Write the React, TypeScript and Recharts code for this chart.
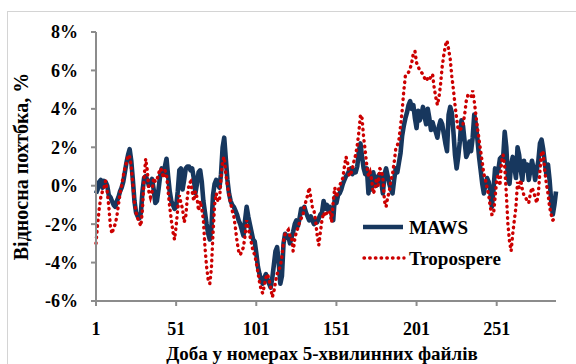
import React from 'react';
import { LineChart, Line, XAxis, YAxis } from 'recharts';

// Categories: numbers of the 5-minute files within the day
const fileNumbers: number[] = Array.from({ length: 288 }, (_, k) => k + 1);

// MAWS relative error, %
const mawsValues: number[] = [
  -0.4, -0.2, 0.2, 0.3, -0.1, 0.25, 0.2, 0.0, -0.5, -0.6,
  -0.8, -1.0, -1.1, -0.8, -0.6, -0.3, -0.1, 0.2, 0.7, 1.2,
  1.6, 1.9, 1.3, 0.3, -0.8, -1.4, -1.6, -1.7, -1.4, -0.3,
  0.4, 0.5, 0.3, 0.0, 0.2, 0.35, -0.2, -0.9, -0.8, -0.2,
  0.5, 0.9, 0.6, 1.0, 1.4, 0.5, -0.3, -0.8, -1.0, -1.2,
  -1.1, -0.3, 0.8, 0.9, -0.2, 0.3, 0.9, 1.0, 1.0, 0.8,
  0.9, 0.4, -0.4, 0.1, 0.7, 0.8, 0.2, -0.8, -1.4, -2.0,
  -2.5, -2.8, -2.2, -0.5, 0.1, 0.3, 0.1, -0.1, 0.6, 2.0,
  2.5, 1.4, 0.3, -0.4, -0.8, -1.0, -1.1, -1.3, -1.5, -1.8,
  -2.0, -2.3, -2.6, -1.8, -1.1, -1.6, -2.0, -2.4, -2.8, -2.9,
  -3.5, -4.2, -4.6, -4.9, -5.1, -4.8, -4.6, -4.9, -5.1, -5.3,
  -4.8, -4.1, -3.4, -3.2, -4.0, -5.1, -4.7, -3.0, -2.5, -2.7,
  -2.6, -3.0, -2.7, -2.4, -2.0, -1.8, -2.1, -1.7, -1.2, -1.3,
  -1.1, -1.4, -1.6, -1.8, -1.6, -1.8, -2.0, -1.8, -1.9, -1.7,
  -1.5, -1.4, -0.8, -1.2, -1.0, -1.3, -1.1, -1.5, -1.8, -0.6,
  -0.9, -0.5, -0.4, -0.2, 0.1, 0.3, 0.5, 0.6, 0.8, 0.9,
  0.6, 0.8, 0.7, 1.0, 1.8, 2.2, 1.5, 0.9, 0.6, 0.9,
  -0.4, 0.6, -0.2, 0.7, 0.2, 0.0, 0.5, 0.6, 0.2, -0.4,
  0.6, 0.9, 0.5, 0.1, -0.2, -0.4, 0.3, 0.9, 0.7, 1.2,
  1.7, 2.6, 3.1, 3.5, 3.8, 4.2, 4.4, 4.0, 4.2, 3.5,
  3.0, 3.9, 3.4, 3.7, 4.1, 3.6, 3.2, 4.0, 3.5, 2.9,
  3.3, 3.0, 2.8, 2.5, 3.1, 3.4, 3.2, 2.7, 2.2, 1.8,
  3.7, 4.1, 3.8, 2.8, 1.6, 0.9, 1.5, 2.3, 3.4, 3.1,
  2.3, 1.5, 1.7, 2.3, 1.8, 2.5, 3.7, 3.2, 2.4, 1.5,
  0.8, 0.1, -0.4, 0.1, 0.4, 0.2, -0.3, -1.1, -0.2, 0.9,
  0.6, 0.8, 1.4, 1.5, 1.4, 2.8, 2.0, 0.4, 0.1, 1.1,
  1.5, 1.0, 0.4, 2.0, 1.6, 0.8, 0.3, 1.3, 0.8, 1.1,
  0.3, 0.8, 1.3, 0.9, 0.3, 0.8, 1.3, 2.2, 2.4, 1.9,
  1.2, 0.6, 1.1, 0.3, -0.8, -1.5, -1.0, -0.3,
];

// Troposphere relative error, %
const tropoValues: number[] = [
  -3.0, -2.0, -1.2, -0.6, -0.3, -0.1, 0.25, -0.3, -1.1, -2.1,
  -2.5, -2.2, -2.0, -1.6, -1.0, -0.4, 0.0, 0.5, 0.9, 1.2,
  1.6, 1.5, 1.0, 0.1, -0.9, -1.4, -1.7, -1.9, -2.1, -1.2,
  0.4, 1.4, 0.8, -0.3, -0.6, -0.3, 0.4, 0.2, 0.3, 0.6,
  0.9, 0.8, 0.4, 0.8, 0.6, -0.3, -1.1, -1.8, -2.4, -2.8,
  -2.1, -1.2, -0.5, -0.9, -1.2, -1.9, -1.6, -0.6, 0.1, 0.2,
  -0.3, -0.8, -0.3, -0.6, -1.3, -0.8, -1.2, -1.8, -3.2, -4.2,
  -4.9, -5.1, -4.3, -2.5, -1.0, -0.4, -0.8, -0.8, 0.4, 1.3,
  1.5, 0.6, 0.0, -0.5, -0.9, -1.3, -1.6, -2.2, -2.9, -3.4,
  -3.6, -3.4, -3.2, -2.6, -1.8, -2.2, -2.6, -3.0, -3.4, -3.6,
  -4.0, -4.5, -5.0, -5.4, -5.6, -5.2, -4.8, -4.6, -4.9, -5.3,
  -5.8, -5.5, -5.0, -4.6, -4.4, -4.2, -3.7, -2.9, -2.5, -2.4,
  -2.3, -2.6, -2.6, -3.4, -2.8, -2.4, -2.2, -1.9, -1.7, -1.6,
  -1.1, -0.8, -0.5, -0.1, -0.6, -1.1, -1.3, -1.8, -2.6, -3.1,
  -2.4, -1.8, -1.4, -1.6, -1.4, -1.3, -1.4, -1.9, -0.8, -0.1,
  -0.6, -0.3, 0.0, 0.2, 0.4, 1.0, 1.5, 1.2, 0.5, 0.6,
  0.9, 1.3, 1.6, 2.1, 2.8, 3.7, 3.5, 2.5, 1.8, 1.0,
  0.5, 0.7, 0.3, -0.4, -0.2, 0.4, 0.0, 0.9, 0.8, 0.4,
  -0.8, -1.1, -0.6, -0.3, 0.3, 0.6, 1.2, 1.9, 2.1, 2.4,
  3.1, 3.9, 4.9, 5.7, 5.85, 5.9, 6.1, 6.4, 6.9, 7.0,
  6.4, 6.2, 6.0, 5.9, 5.8, 5.6, 5.45, 5.6, 5.5, 5.7,
  5.8, 5.1, 4.6, 4.2, 4.6, 5.3, 6.2, 6.8, 7.3, 7.55,
  7.1, 6.6, 5.7, 5.0, 4.2, 3.5, 2.9, 2.9, 3.0, 3.2,
  3.7, 4.4, 4.7, 4.6, 4.6, 4.95, 4.4, 3.7, 3.0, 2.4,
  1.8, 1.2, 0.6, 0.3, -0.1, -0.5, -1.1, -1.5, -1.5, -0.6,
  0.3, 0.6, 0.0, 1.2, 1.6, 1.0, -0.4, -2.0, -2.9, -3.4,
  -2.5, -1.8, -1.1, 0.2, -0.1, 0.3, -0.2, -0.5, -0.6, -0.8,
  -0.9, -0.4, -0.1, -0.3, -0.6, -0.9, -0.4, 0.8, 1.8, 1.7,
  0.8, 0.1, -0.4, -1.1, -1.5, -1.8, -1.7, -1.6,
];

const xTicks: number[] = [1, 51, 101, 151, 201, 251];
const yTicks: number[] = [-6, -4, -2, 0, 2, 4, 6, 8];

const seriesNames = ['MAWS', 'Tropospere'];
const xTitle = 'Доба у номерах 5-хвилинних файлів';
const yTitle = 'Відносна похтбка, %';

const data = fileNumbers.map((n, k) => ({
  n,
  maws: mawsValues[k],
  tropo: tropoValues[k],
}));

const FONT = "'Liberation Serif', 'Times New Roman', serif";
const AXIS = '#8c8c8c';
const NAVY = '#17375e';
const RED = '#cc0000';
const DOTS = '0.5 5.2';

const tickStyle = { fontFamily: FONT, fontWeight: 700, fontSize: 18, fill: '#000' };

export default function App() {
  return (
    <div
      style={{
        position: 'absolute',
        left: 0,
        top: 0,
        width: 576,
        height: 364,
        overflow: 'hidden',
        background: '#fff',
      }}
    >
      <div
        style={{
          position: 'absolute',
          left: 7,
          top: 11,
          width: 700,
          height: 500,
          border: '1px solid #d4d4d4',
        }}
      />
      <div style={{ position: 'absolute', left: 0, top: 0 }}>
        <LineChart
          width={576}
          height={364}
          data={data}
          margin={{ top: 32, right: 20, bottom: 0, left: 0 }}
        >
          <XAxis
            dataKey="n"
            type="number"
            domain={[1, 288]}
            ticks={xTicks}
            interval={0}
            height={63}
            tick={tickStyle}
            tickSize={5}
            tickMargin={16}
            axisLine={{ stroke: AXIS, strokeWidth: 2 }}
            tickLine={{ stroke: AXIS, strokeWidth: 2 }}
            label={{
              value: xTitle,
              position: 'insideBottom',
              offset: 4,
              dx: -4,
              style: { fontFamily: FONT, fontWeight: 700, fontSize: 19, fill: '#000' },
            }}
          />
          <YAxis
            type="number"
            domain={[-6, 8]}
            ticks={yTicks}
            interval={0}
            width={96}
            tick={tickStyle}
            tickSize={5}
            tickMargin={13}
            tickFormatter={(v: number) => `${v}%`}
            axisLine={{ stroke: AXIS, strokeWidth: 2 }}
            tickLine={{ stroke: AXIS, strokeWidth: 2 }}
            label={{
              value: yTitle,
              angle: -90,
              position: 'insideLeft',
              offset: 21,
              style: {
                fontFamily: FONT,
                fontWeight: 700,
                fontSize: 20,
                fill: '#000',
                textAnchor: 'middle',
              },
            }}
          />
          <Line
            type="linear"
            dataKey="maws"
            name={seriesNames[0]}
            stroke={NAVY}
            strokeWidth={4.6}
            strokeLinejoin="round"
            dot={false}
            activeDot={false}
            isAnimationActive={false}
          />
          <Line
            type="linear"
            dataKey="tropo"
            name={seriesNames[1]}
            stroke={RED}
            strokeWidth={3.4}
            strokeDasharray={DOTS}
            strokeLinecap="round"
            dot={false}
            activeDot={false}
            isAnimationActive={false}
          />
        </LineChart>
      </div>
      <svg
        width={576}
        height={364}
        style={{ position: 'absolute', left: 0, top: 0, pointerEvents: 'none' }}
      >
        <line x1={363} y1={227} x2={403} y2={227} stroke={NAVY} strokeWidth={4.6} />
        <text
          x={409}
          y={227}
          dominantBaseline="central"
          style={{ fontFamily: FONT, fontWeight: 700, fontSize: 19, fill: '#000' }}
        >
          {seriesNames[0]}
        </text>
        <line
          x1={364}
          y1={258}
          x2={404}
          y2={258}
          stroke={RED}
          strokeWidth={3.4}
          strokeDasharray={DOTS}
          strokeLinecap="round"
        />
        <text
          x={409}
          y={258}
          dominantBaseline="central"
          style={{ fontFamily: FONT, fontWeight: 700, fontSize: 19, fill: '#000' }}
        >
          {seriesNames[1]}
        </text>
      </svg>
    </div>
  );
}
